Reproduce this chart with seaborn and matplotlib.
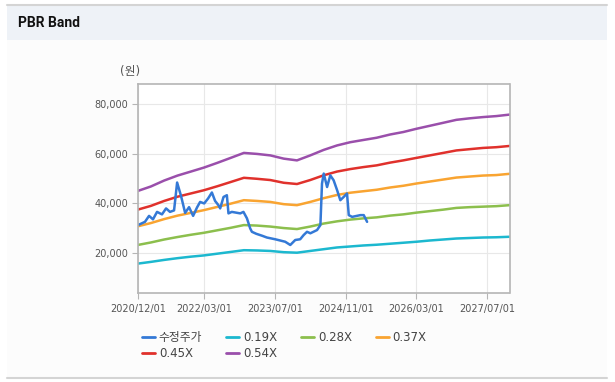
import matplotlib
matplotlib.use("Agg")
import matplotlib.pyplot as plt
import matplotlib.dates as mdates
from matplotlib.patches import Rectangle
from matplotlib.lines import Line2D
from matplotlib.ticker import FuncFormatter
import pandas as pd
import seaborn as sns

# --- data -----------------------------------------------------------------
price_dates = [
    "2020-12-03", "2021-01-20", "2021-02-17", "2021-03-16", "2021-04-13",
    "2021-05-17", "2021-06-14", "2021-07-11", "2021-08-08", "2021-08-29",
    "2021-09-25", "2021-10-23", "2021-11-19", "2021-12-17", "2022-01-13",
    "2022-02-03", "2022-03-03", "2022-03-30", "2022-04-25", "2022-05-17",
    "2022-06-09", "2022-06-21", "2022-07-14", "2022-08-06", "2022-08-17",
    "2022-09-09", "2022-11-06", "2022-11-28", "2022-12-22", "2023-01-13",
    "2023-01-25", "2023-02-24", "2023-04-06", "2023-05-08", "2023-07-04",
    "2023-09-11", "2023-10-16", "2023-11-19", "2023-12-23", "2024-01-16",
    "2024-02-08", "2024-03-02", "2024-04-17", "2024-05-10", "2024-05-21",
    "2024-06-02", "2024-06-25", "2024-07-17", "2024-08-09", "2024-09-02",
    "2024-09-24", "2024-10-17", "2024-11-09", "2024-11-21", "2024-12-14",
    "2025-02-09", "2025-03-04", "2025-03-15", "2025-03-27",
]
price = [
    31300, 32600, 35000, 33600, 36600,
    35600, 38000, 36600, 37200, 48400,
    43000, 36200, 38500, 35000, 38400,
    40600, 40000, 42000, 44400, 41000,
    39300, 38000, 42600, 43300, 36000,
    36600, 36000, 36600, 34000, 30000,
    28600, 27800, 27000, 26300, 25600,
    24600, 23300, 25300, 25600, 27300,
    28600, 28000, 29300, 31300, 48000,
    52000, 46600, 51300, 49300, 45300,
    41300, 42600, 44000, 35300, 34600,
    35300, 35300, 34000, 32600,
]

band_dates = pd.date_range("2020-12-01", "2027-12-01", freq="3MS")
band_019 = [15800, 16500, 17300, 18000, 18600, 19100, 19800, 20500, 21200, 21100,
            20900, 20400, 20200, 20900, 21600, 22300, 22700, 23100, 23400, 23800,
            24200, 24600, 25100, 25500, 25900, 26100, 26300, 26400, 26600]
band_028 = [23300, 24300, 25500, 26500, 27400, 28200, 29200, 30200, 31300, 31100,
            30700, 30100, 29700, 30700, 31900, 32800, 33500, 34000, 34400, 35100,
            35600, 36300, 36900, 37500, 38200, 38500, 38700, 38900, 39300]
band_037 = [30800, 32100, 33700, 35100, 36200, 37300, 38600, 39900, 41300, 41000,
            40600, 39700, 39300, 40600, 42100, 43400, 44300, 44900, 45500, 46400,
            47100, 48000, 48800, 49600, 50400, 50800, 51200, 51400, 51900]
band_045 = [37500, 39000, 41000, 42700, 44000, 45300, 46900, 48600, 50300, 49900,
            49400, 48300, 47800, 49400, 51300, 52800, 53800, 54600, 55300, 56400,
            57300, 58300, 59300, 60300, 61300, 61800, 62300, 62600, 63100]
band_054 = [45000, 46800, 49200, 51200, 52800, 54400, 56300, 58300, 60300, 59900,
            59300, 58000, 57300, 59300, 61500, 63300, 64600, 65500, 66400, 67700,
            68700, 70000, 71200, 72400, 73600, 74200, 74700, 75100, 75700]

x_ticks = ["2020-12-01", "2022-03-01", "2023-07-01", "2024-11-01", "2026-03-01", "2027-07-01"]
y_ticks = [20000, 40000, 60000, 80000]

bands = [("0.19X", band_019, "#1cb8cf"),
         ("0.28X", band_028, "#8cbf4d"),
         ("0.37X", band_037, "#f9a431"),
         ("0.45X", band_045, "#e0312c"),
         ("0.54X", band_054, "#9a4fab")]
price_color = "#3479d6"

# --- style ----------------------------------------------------------------
sns.set_theme(style="white")
plt.rcParams["font.family"] = ["DejaVu Sans", "Noto Sans CJK KR"]

W, H = 615, 382
fig = plt.figure(figsize=(W / 100, H / 100), dpi=100, facecolor="white")

# panel background, header and borders
fig.patches.append(Rectangle((7 / W, 1 - 378 / H), 600 / W, 338 / H,
                             transform=fig.transFigure, facecolor="#fcfcfc",
                             edgecolor="none", zorder=-3))
fig.patches.append(Rectangle((7 / W, 1 - 40 / H), 600 / W, 35 / H,
                             transform=fig.transFigure, facecolor="#eef2f7",
                             edgecolor="none", zorder=-2))
fig.lines.append(Line2D([7 / W, 607 / W], [1 - 5 / H, 1 - 5 / H],
                        transform=fig.transFigure, color="#d4d4d4", lw=1.5))
fig.lines.append(Line2D([7 / W, 607 / W], [1 - 378 / H, 1 - 378 / H],
                        transform=fig.transFigure, color="#d4d4d4", lw=1.5))
fig.text(18 / W, 1 - 23 / H, "PBR Band", fontsize=10, fontweight="bold",
         family="Roboto", color="#111111", va="center", ha="left")

ax = fig.add_axes([137.7 / W, 1 - 293 / H, (509.5 - 137.7) / W, (293 - 84) / H])
ax.set_facecolor("white")

handles = {}
price_df = pd.DataFrame({"date": pd.to_datetime(price_dates), "value": price})
for label, vals, color in bands:
    df = pd.DataFrame({"date": band_dates, "value": vals})
    sns.lineplot(data=df, x="date", y="value", ax=ax, color=color, lw=1.8)
    handles[label] = Line2D([], [], color=color, lw=2)
sns.lineplot(data=price_df, x="date", y="value", ax=ax, color=price_color, lw=1.8)
handles["수정주가"] = Line2D([], [], color=price_color, lw=2)

ax.set_xlim(pd.Timestamp("2020-12-01"), pd.Timestamp("2027-12-01"))
ax.set_ylim(4000, 88000)
ax.set_xticks(pd.to_datetime(x_ticks))
ax.xaxis.set_major_formatter(mdates.DateFormatter("%Y/%m/%d"))
ax.set_yticks(y_ticks)
ax.yaxis.set_major_formatter(FuncFormatter(lambda v, p: f"{int(v):,}"))
ax.set_xlabel("")
ax.set_ylabel("")
ax.grid(True, color="#e8e8e8", lw=0.8)
for s in ax.spines.values():
    s.set_color("#b5b5b5")
    s.set_linewidth(1.2)
ax.tick_params(axis="both", labelsize=7, colors="#b5b5b5", labelcolor="#555555",
               length=4, width=0.8, direction="out", bottom=True, left=True)
ax.tick_params(axis="x", pad=4)
ax.tick_params(axis="y", pad=3)

fig.text(130 / W, 1 - 72 / H, "(원)", fontsize=8.5, color="#555555",
         ha="center", va="center")

order = ["수정주가", "0.45X", "0.19X", "0.54X", "0.28X", "0.37X"]
fig.legend([handles[k] for k in order], order, ncol=4, loc="upper left",
           bbox_to_anchor=(137 / W, 1 - 326 / H), frameon=False, fontsize=8.5,
           handlelength=1.1, handletextpad=0.35, columnspacing=2.0,
           labelspacing=0.25, labelcolor="#444444", borderaxespad=0)

fig.savefig("out.png", dpi=100, facecolor="white")
